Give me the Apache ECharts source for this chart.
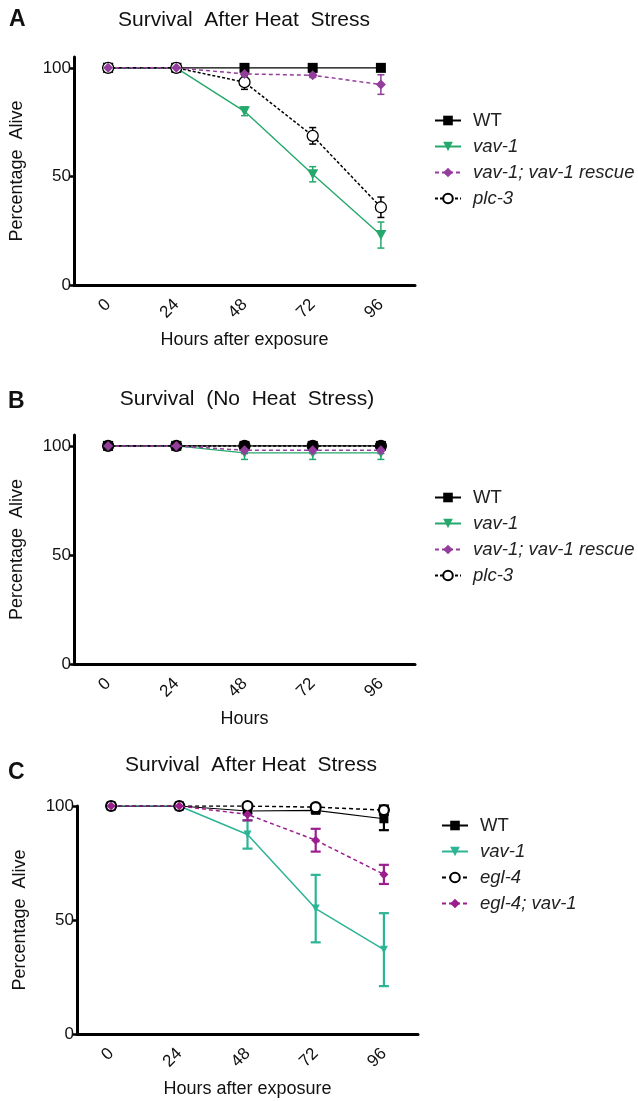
<!DOCTYPE html>
<html><head><meta charset="utf-8">
<script src="https://cdn.jsdelivr.net/npm/echarts@6/dist/echarts.min.js"></script>
<style>html,body{margin:0;padding:0;background:#fff}#c{width:638px;height:1101px}</style>
</head><body><div id="c"></div>
<script>
const hours = ['0','24','48','72','96'];
const yTicks = [0,50,100];
// Panel A: survival after heat stress
const aWT = [100,100,100,100,100];
const aWTErr = [0,0,0,0,0];
const aVav = [100,100,80,51,23];
const aVavErr = [0,0,2,3.5,6];
const aRescue = [100,100,97.2,96.6,92.3];
const aRescueErr = [0,0,1,1,4.5];
const aPlc = [100,100,93.4,68.7,35.8];
const aPlcErr = [0,0,3.3,3.8,4.7];
// Panel B: no heat stress
const bWT = [100,100,100,100,100];
const bWTErr = [0,0,0,0,0];
const bVav = [100,100,96.8,96.8,96.8];
const bVavErr = [0,0,3,3,3];
const bRescue = [100,100,98,98,98];
const bRescueErr = [0,0,1.5,1.5,1.5];
const bPlc = [100,100,100,100,100];
const bPlcErr = [0,0,0.5,0.5,0.5];
// Panel C: survival after heat stress
const cWT = [100,100,97.8,98.1,94.4];
const cWTErr = [0,0,1,1,5];
const cVav = [100,100,87.5,55,37];
const cVavErr = [0,0,6.2,14.8,16];
const cEgl = [100,100,100,99.5,98.2];
const cEglErr = [0,0,0.5,0.7,2];
const cEglVav = [100,100,96.3,85,70];
const cEglVavErr = [0,0,2.6,5,4.2];

const FONT = 'Liberation Sans';
const GREEN = '#25a86b', PURPLE = '#933d9c', TEAL = '#2db494', MAGENTA = '#9c1d8e';
const TRI = 'path://M0,0 L10,0 L5,9 Z';

function lineS(name, gi, data, o) {
  return {
    type: 'line', name, xAxisIndex: gi, yAxisIndex: gi, data,
    symbol: o.symbol, symbolSize: o.size, z: o.z || 3,
    itemStyle: o.item,
    lineStyle: { color: o.color, width: o.lw || 1.3, type: o.dash || 'solid' },
    animation: false
  };
}
function errS(name, gi, vals, errs, color, lw, cap) {
  return {
    type: 'custom', name, xAxisIndex: gi, yAxisIndex: gi, z: 2,
    data: vals.map((v, i) => [i, v, errs[i]]),
    encode: { x: 0, y: 1 },
    animation: false,
    renderItem: function (params, api) {
      const x = api.value(0), y = api.value(1), e = api.value(2);
      if (!e) return null;
      const hi = api.coord([x, y + e]);
      const lo = api.coord([x, y - e]);
      const st = { stroke: color, lineWidth: lw };
      return { type: 'group', children: [
        { type: 'line', shape: { x1: hi[0], y1: hi[1], x2: lo[0], y2: lo[1] }, style: st },
        { type: 'line', shape: { x1: hi[0] - cap, y1: hi[1], x2: hi[0] + cap, y2: hi[1] }, style: st },
        { type: 'line', shape: { x1: lo[0] - cap, y1: lo[1], x2: lo[0] + cap, y2: lo[1] }, style: st }
      ]};
    }
  };
}

function panelSeries(p, gi, wt, wtE, v, vE, third, thirdE, fourth, fourthE, isC, wtZ) {
  const s = [];
  if (!isC) {
    s.push(lineS(p+'WT', gi, wt, { symbol: 'rect', size: 10, color: '#000', item: { color: '#000' }, lw: 1.2, z: wtZ }));
    s.push(lineS(p+'vav-1', gi, v, { symbol: TRI, size: [11, 10], color: GREEN, item: { color: GREEN }, lw: 1.4, z: 3 }));
    s.push(lineS(p+'vav-1; vav-1 rescue', gi, third, { symbol: 'diamond', size: 10, color: PURPLE, item: { color: PURPLE }, dash: [4, 3], lw: 1.5, z: 7 }));
    s.push(lineS(p+'plc-3', gi, fourth, { symbol: 'circle', size: 11, color: '#000', item: { color: '#fff', borderColor: '#000', borderWidth: 1.3 }, dash: [3, 2], lw: 1.5, z: 5 }));
    s.push(errS(p+'WT', gi, wt, wtE, '#000', 1.5, 3.5));
    s.push(errS(p+'vav-1', gi, v, vE, GREEN, 1.5, 3.5));
    s.push(errS(p+'vav-1; vav-1 rescue', gi, third, thirdE, PURPLE, 1.5, 3.5));
    s.push(errS(p+'plc-3', gi, fourth, fourthE, '#000', 1.5, 3.5));
  } else {
    s.push(lineS(p+'WT', gi, wt, { symbol: 'rect', size: 9, color: '#000', item: { color: '#000' }, lw: 1.2, z: 4 }));
    s.push(lineS(p+'vav-1', gi, v, { symbol: TRI, size: [8, 8], color: TEAL, item: { color: TEAL }, lw: 1.5, z: 3 }));
    s.push(lineS(p+'egl-4', gi, third, { symbol: 'circle', size: 10, color: '#000', item: { color: '#fff', borderColor: '#000', borderWidth: 2.2 }, dash: [4, 3], lw: 1.5, z: 5 }));
    s.push(lineS(p+'egl-4; vav-1', gi, fourth, { symbol: 'diamond', size: 9, color: MAGENTA, item: { color: MAGENTA }, dash: [4, 3], lw: 1.5, z: 6 }));
    s.push(errS(p+'WT', gi, wt, wtE, '#000', 2.2, 5));
    s.push(errS(p+'vav-1', gi, v, vE, TEAL, 2.2, 5));
    s.push(errS(p+'egl-4', gi, third, thirdE, '#000', 2.2, 5));
    s.push(errS(p+'egl-4; vav-1', gi, fourth, fourthE, MAGENTA, 2.2, 5));
  }
  return s;
}

function xAx(gi, name) {
  return {
    type: 'category', gridIndex: gi, data: hours, boundaryGap: true,
    name, nameLocation: 'middle', nameGap: 46,
    nameTextStyle: { fontFamily: FONT, fontSize: 18, color: '#111' },
    axisLine: { lineStyle: { color: '#000', width: 3 } },
    axisTick: { alignWithLabel: true, length: 6, lineStyle: { color: '#000', width: 2.5 } },
    axisLabel: { rotate: 45, fontFamily: FONT, fontSize: 17, color: '#111', margin: 17 },
    splitLine: { show: false }
  };
}
function yAx(gi, max) {
  return {
    type: 'value', gridIndex: gi, min: 0, max,
    name: 'Percentage  Alive', nameLocation: 'middle', nameGap: 48, nameRotate: 90,
    nameTextStyle: { fontFamily: FONT, fontSize: 18, color: '#111' },
    axisLine: { show: true, lineStyle: { color: '#000', width: 3 } },
    axisTick: { show: true, length: 4, customValues: yTicks, lineStyle: { color: '#000', width: 2.5 } },
    axisLabel: { fontFamily: FONT, fontSize: 17, color: '#111', margin: 3, customValues: yTicks },
    splitLine: { show: false }
  };
}
function legend(p, names, left, top) {
  return {
    orient: 'vertical', left, top, itemWidth: 26, itemHeight: 12, itemGap: 7,
    data: names.map(n => p + n),
    formatter: function (name) {
      const n = name.slice(2);
      return n === 'WT' ? '{n|' + n + '}' : '{i|' + n + '}';
    },
    textStyle: {
      rich: {
        n: { fontFamily: FONT, fontSize: 18.5, color: '#222', lineHeight: 20, padding: [0, 0, 0, 7] },
        i: { fontFamily: FONT, fontSize: 18.5, color: '#222', fontStyle: 'italic', lineHeight: 20, padding: [0, 0, 0, 7] }
      }
    }
  };
}
function txt(t, x, y, size, bold) {
  return { type: 'text', x, y, style: { text: t, fontFamily: FONT, fontSize: size, fontWeight: bold ? 'bold' : 'normal', fill: '#111', textAlign: bold ? 'left' : 'center', textVerticalAlign: 'middle' } };
}

const chart = echarts.init(document.getElementById('c'), null, { renderer: 'canvas' });
chart.setOption({
  backgroundColor: '#fff',
  animation: false,
  graphic: [
    txt('A', 9, 20, 23, true), txt('Survival  After Heat  Stress', 244, 20, 21),
    txt('B', 8, 402, 23, true), txt('Survival  (No  Heat  Stress)', 247, 399, 21),
    txt('C', 8, 773, 23, true), txt('Survival  After Heat  Stress', 251, 765, 21)
  ],
  grid: [
    { left: 72, top: 57, width: 343, height: 228 },
    { left: 72, top: 435, width: 343, height: 229 },
    { left: 77, top: 806, width: 341, height: 228 }
  ],
  xAxis: [xAx(0, 'Hours after exposure'), xAx(1, 'Hours'), xAx(2, 'Hours after exposure')],
  yAxis: [yAx(0, 105), yAx(1, 105), yAx(2, 100)],
  legend: [
    legend('A-', ['WT', 'vav-1', 'vav-1; vav-1 rescue', 'plc-3'], 429, 106),
    legend('B-', ['WT', 'vav-1', 'vav-1; vav-1 rescue', 'plc-3'], 429, 483),
    legend('C-', ['WT', 'vav-1', 'egl-4', 'egl-4; vav-1'], 436, 811)
  ],
  series: [].concat(
    panelSeries('A-', 0, aWT, aWTErr, aVav, aVavErr, aRescue, aRescueErr, aPlc, aPlcErr, false, 4),
    panelSeries('B-', 1, bWT, bWTErr, bVav, bVavErr, bRescue, bRescueErr, bPlc, bPlcErr, false, 6),
    panelSeries('C-', 2, cWT, cWTErr, cVav, cVavErr, cEgl, cEglErr, cEglVav, cEglVavErr, true, 4)
  )
});
</script></body></html>
